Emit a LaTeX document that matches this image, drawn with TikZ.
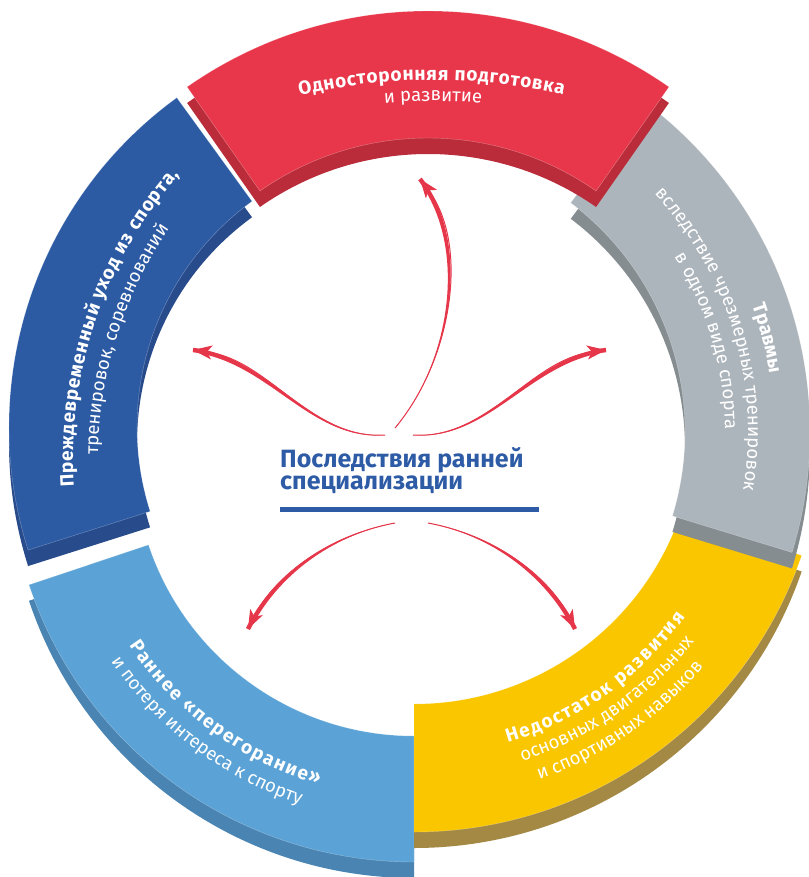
\documentclass[tikz,border=0pt]{standalone}
\usepackage{fontspec}
\setmainfont{Fira Sans}
\usetikzlibrary{calc,decorations.text,arrows.meta}

\definecolor{redT}{HTML}{E8374A}
\definecolor{redS}{HTML}{BA2C3A}
\definecolor{bluT}{HTML}{2C5BA4}
\definecolor{bluS}{HTML}{284B8C}
\definecolor{lbT}{HTML}{5BA2D6}
\definecolor{lbS}{HTML}{4A84B2}
\definecolor{yelT}{HTML}{F9C600}
\definecolor{yelS}{HTML}{A38944}
\definecolor{grT}{HTML}{ADB5BC}
\definecolor{grS}{HTML}{858D91}
\definecolor{arrR}{HTML}{E5364A}
\definecolor{ttlB}{HTML}{2D5BA5}

\newcommand{\segbold}{\bfseries\fontsize{19}{19}\selectfont}
\newcommand{\segreg}{\fontsize{18.5}{18.5}\selectfont}

% center, r, R, a1, a2, top colour, side colour
\newcommand{\ringseg}[7]{%
  \fill[#7] ($(#1)+(#4:#3)+(0,-16)$) arc[start angle=#4,end angle=#5,radius=#3]
     -- ($(#1)+(#5:#2)+(0,-16)$) arc[start angle=#5,end angle=#4,radius=#2] -- cycle;
  \filldraw[fill=#6,draw=white,draw opacity=0.35,line width=0.4pt]
     ($(#1)+(#4:#3)$) arc[start angle=#4,end angle=#5,radius=#3]
     -- ($(#1)+(#5:#2)$) arc[start angle=#5,end angle=#4,radius=#2] -- cycle;
}
% centred text: center, radius, a1, a2, format, text
\newcommand{\arctext}[6]{%
  \path[decorate,decoration={text along path,text align=center,text color=white,
        text={|#5|#6}}] ($(#1)+(#3:#2)$) arc[start angle=#3,end angle=#4,radius=#2];
}
% text spread over the whole arc
\newcommand{\arcfit}[6]{%
  \path[decorate,decoration={text along path,text align={fit to path},text color=white,
        text={|#5|#6}}] ($(#1)+(#3:#2)$) arc[start angle=#3,end angle=#4,radius=#2];
}
% tapered arrow: start, control 1, control 2, end, normal offset
\newcommand{\taperarrow}[5]{%
  \fill[arrR] (#1) .. controls ($(#2)+0.5*(#5)$) and ($(#3)+(#5)$) .. ($(#4)+(#5)$)
     -- ($(#4)-(#5)$) .. controls ($(#3)-(#5)$) and ($(#2)-0.5*(#5)$) .. (#1) -- cycle;
  \draw[arr] (#1) .. controls (#2) and (#3) .. (#4);
}

\begin{document}
\begin{tikzpicture}[x=1pt,y=1pt,
  arr/.style={draw=arrR,line width=1pt,-{Stealth[length=19pt,width=14pt,inset=5pt]}},
  ttl/.style={font=\bfseries\fontsize{25}{25}\selectfont,text=ttlB,inner sep=0pt}]
\useasboundingbox (0,0) rectangle (808,-877);

\coordinate (cR) at (428,-431);
\coordinate (cB) at (416,-427);
\coordinate (cL) at (414,-456);
\coordinate (cY) at (414,-422);
\coordinate (cG) at (398,-432);
% centres of the (flatter) text arcs
\coordinate (tR) at (433,-655);
\coordinate (tB) at (506,-459);

% segments
\ringseg{cL}{280}{406}{198.5}{270}{lbT}{lbS}
\ringseg{cY}{282}{410}{270}{341}{yelT}{yelS}
\ringseg{cG}{287}{412}{-17}{53}{grT}{grS}
\ringseg{cB}{279}{407}{126}{197.6}{bluT}{bluS}
\ringseg{cR}{293}{420}{55}{125}{redT}{redS}

% segment texts
\arcfit{tR}{575}{103.4}{76.9}{\segbold}{Односторонняя подготовка}
\arctext{tR}{554}{100}{80}{\segreg}{и развитие}

\arcfit{tB}{433}{183.7}{139}{\segbold}{Преждевременный уход из спорта,}
\arctext{tB}{408}{197.5}{127.5}{\segreg}{тренировок, соревнований}

\arcfit{cG}{376}{19.6}{9}{\segbold}{Травмы}
\arctext{cG}{350}{51.7}{-18.3}{\segreg}{вследствие чрезмерных тренировок}
\arctext{cG}{327}{51.4}{-18.6}{\segreg}{в одном виде спорта}

\arcfit{cL}{342}{213.7}{253.8}{\segbold}{Раннее «перегорание»}
\arctext{cL}{366}{198}{268}{\segreg}{и потеря интереса к спорту}

\arcfit{cY}{334}{286.3}{324.3}{\segbold}{Недостаток развития}
\arctext{cY}{356}{270}{339.6}{\segreg}{основных двигательных}
\arctext{cY}{379}{270}{339.1}{\segreg}{и спортивных навыков}

% title
\node[ttl,anchor=base west] (t1) at (280,-467) {Последствия ранней};
\node[ttl,anchor=base west] (t2) at (280,-489) {специализации};
\fill[ttlB] (280,-507) rectangle (539,-512);

% arrows
\coordinate (s1) at (395,-428); \coordinate (e1) at (420,-179);
\coordinate (s2) at (385,-435); \coordinate (e2) at (193,-350);
\coordinate (s3) at (413,-435); \coordinate (e3) at (606,-350);
\coordinate (s4) at (395,-523); \coordinate (e4) at (248,-629);
\coordinate (s5) at (428,-523); \coordinate (e5) at (575,-629);
\taperarrow{s1}{452,-360}{470,-245}{e1}{1.76,1.33}
\taperarrow{s2}{310,-440}{270,-360}{e2}{0.29,2.19}
\taperarrow{s3}{489,-440}{529,-360}{e3}{-0.29,2.19}
\taperarrow{s4}{330,-535}{275,-575}{e4}{1.97,-0.99}
\taperarrow{s5}{493,-535}{548,-575}{e5}{1.97,0.99}
\end{tikzpicture}
\end{document}
